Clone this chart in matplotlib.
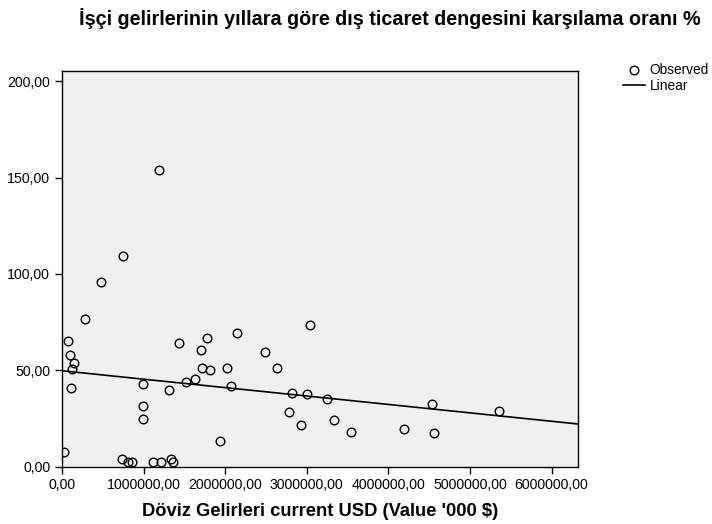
import matplotlib
matplotlib.use("Agg")
import matplotlib.pyplot as plt
from matplotlib.lines import Line2D
from matplotlib.ticker import FuncFormatter, FixedLocator
import numpy as np

plt.rcParams['font.family'] = ['Liberation Sans', 'DejaVu Sans']

# Döviz gelirleri ('000 $) ve karşılama oranı (%)
doviz = [1189000, 743000, 474000, 278000, 78000, 98000, 147000, 118000, 110000,
         25000, 731000, 813000, 862000, 988000, 988000, 988000, 1119000, 1217000,
         1340000, 1364000, 1315000, 1430000, 1516000, 1634000, 1699000, 1781000,
         1720000, 1814000, 2026000, 2075000, 1940000, 2145000, 2492000, 2631000,
         2822000, 2786000, 2925000, 3006000, 3043000, 3252000, 3333000, 3546000,
         4195000, 4530000, 4563000, 5359000]
oran = [154.0, 109.5, 95.6, 76.4, 65.0, 57.7, 53.9, 50.8, 40.6,
        7.5, 3.7, 2.5, 2.3, 43.0, 31.4, 24.8, 2.5, 2.5,
        4.1, 2.5, 39.9, 64.0, 43.7, 45.3, 60.7, 66.7,
        51.0, 50.3, 51.3, 41.8, 13.1, 69.5, 59.3, 51.3,
        38.3, 28.1, 21.4, 37.5, 73.3, 35.2, 24.1, 17.9,
        19.3, 32.6, 17.5, 28.8]

# Linear fit
line_intercept = 49.7
line_slope = -4.37e-6

x_ticks = [0, 1000000, 2000000, 3000000, 4000000, 5000000, 6000000]
y_ticks = [0, 50, 100, 150, 200]
x_max = 6320000
y_max = 205.3

fig = plt.figure(figsize=(7.12, 5.24), dpi=100)
ax = fig.add_axes([0.0871, 0.1097, 0.7243, 0.7548])
ax.set_facecolor('#f0f0f0')

xs = np.array([0, x_max])
ax.plot(xs, line_intercept + line_slope * xs, color='black', linewidth=1.2, zorder=2)
ax.plot(doviz, oran, linestyle='none', marker='o', markersize=6.2,
        markerfacecolor='none', markeredgecolor='black', markeredgewidth=1.0, zorder=3)

ax.set_xlim(0, x_max)
ax.set_ylim(0, y_max)
ax.xaxis.set_major_locator(FixedLocator(x_ticks))
ax.yaxis.set_major_locator(FixedLocator(y_ticks))
fmt = FuncFormatter(lambda v, p: f"{v:.2f}".replace('.', ','))
ax.xaxis.set_major_formatter(fmt)
ax.yaxis.set_major_formatter(fmt)
ax.tick_params(direction='out', length=5, width=1, labelsize=10.2, colors='black')
for s in ax.spines.values():
    s.set_linewidth(1.0)
    s.set_color('black')

ax.set_xlabel("Döviz Gelirleri current USD (Value '000 $)", fontsize=13.2,
              fontweight='bold', labelpad=8)

fig.text(0.548, 0.965, "İşçi gelirlerinin yıllara göre dış ticaret dengesini karşılama oranı %",
         ha='center', va='center', fontsize=14.2, fontweight='bold')

handles = [Line2D([], [], linestyle='none', marker='o', markersize=6.2,
                  markerfacecolor='none', markeredgecolor='black'),
           Line2D([], [], color='black', linewidth=1.2)]
fig.legend(handles, ['Observed', 'Linear'], loc='upper left',
           bbox_to_anchor=(0.865, 0.892), frameon=False, fontsize=9.9,
           handlelength=1.6, handletextpad=0.35, labelspacing=0.1, borderpad=0)

fig.savefig('out.png', dpi=100)
